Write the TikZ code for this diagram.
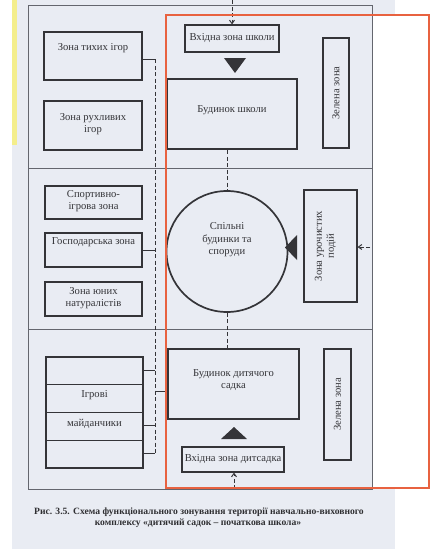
\documentclass[tikz,border=0pt]{standalone}
\usepackage{fontspec}
\setmainfont{Liberation Serif}
\usetikzlibrary{arrows.meta,calc}
\definecolor{paper}{RGB}{233,236,243}
\definecolor{ink}{RGB}{52,52,56}
\definecolor{frameink}{RGB}{100,102,110}
\definecolor{redline}{RGB}{232,98,64}
\definecolor{yelstrip}{RGB}{244,238,140}
\begin{document}
\begin{tikzpicture}[x=1pt,y=-1pt,
  zbox/.style={draw=ink, line width=1.1pt, inner sep=0pt},
  thickbox/.style={draw=ink, line width=2.3pt, inner sep=0pt},
  ztext/.style={text=ink, font=\fontsize{10.6}{12}\selectfont, align=center, inner sep=0pt},
  conn/.style={draw=ink, line width=0.9pt},
  dashline/.style={draw=ink, line width=1pt, dash pattern=on 4pt off 2.5pt},
  dasharrow/.style={dashline, -{Straight Barb[length=3.5pt,width=5pt]}},
  frameline/.style={draw=frameink, line width=0.8pt},
  captext/.style={text=ink!90!black, font=\fontsize{9.6}{11}\selectfont\bfseries, inner sep=0pt}
]
\useasboundingbox (0,0) rectangle (446,549);
% paper
\fill[white] (0,0) rectangle (446,549);
\fill[paper] (12,0) rectangle (395,549);
\fill[yelstrip] (12,0) rectangle (17,145);
\fill[white] (372,15) rectangle (429,488);

% outer frame and dividers
\draw[frameline] (28,5) rectangle (372,489);
\draw[frameline] (28,168) -- (372,168);
\draw[frameline] (28,329) -- (372,329);

% ---- top section
\node[zbox, minimum width=98pt, minimum height=48pt] (tykh) at (93,56) {};
\node[ztext] (tykhT) at (93,48) {Зона тихих ігор};
\node[zbox, minimum width=98pt, minimum height=49pt] (rukh) at (93,125.5) {};
\node[ztext] (rukhT) at (93,124.5) {Зона рухливих\\ігор};
\node[zbox, minimum width=94pt, minimum height=27pt] (schEnt) at (232,38.5) {};
\node[ztext] (schEntT) at (232,38.5) {Вхідна зона школи};
\node[thickbox, minimum width=130pt, minimum height=70pt] (school) at (232,114) {};
\node[ztext] (schoolT) at (232,110) {Будинок школи};
\node[zbox, minimum width=26pt, minimum height=110pt] (green1) at (336,93) {};
\node[ztext, rotate=90] (green1T) at (336,93) {Зелена зона};
\fill[ink] (224,58) -- (246,58) -- (235,73) -- cycle;

% ---- middle section
\node[zbox, minimum width=97pt, minimum height=33pt] (sport) at (93.5,202.5) {};
\node[ztext] (sportT) at (93.5,201) {Спортивно-\\ігрова зона};
\node[zbox, minimum width=97pt, minimum height=34pt] (gosp) at (93.5,250) {};
\node[ztext] (gospT) at (93.5,242.5) {Господарська зона};
\node[zbox, minimum width=97pt, minimum height=34pt] (nat) at (93.5,299) {};
\node[ztext] (natT) at (93.5,298) {Зона юних\\натуралістів};
\node[draw=ink, line width=1.7pt, circle, minimum size=121pt, inner sep=0pt] (circ) at (227,251.5) {};
\node[ztext, align=center, font=\fontsize{10.6}{12.5}\selectfont] (circT) at (227,240) {Спільні\\будинки та\\споруди};
\node[zbox, minimum width=53pt, minimum height=112pt] (uroch) at (330.5,246) {};
\node[ztext, rotate=90] (urochT) at (325.5,246) {Зона урочистих\\подій};
\fill[ink] (285,247.5) -- (297,235) -- (297,260) -- cycle;

% ---- bottom section
\node[zbox, minimum width=97pt, minimum height=111pt] (play) at (94.5,412.5) {};
\draw[conn] (play.west |- 0,384) -- (play.east |- 0,384);
\draw[conn] (play.west |- 0,412) -- (play.east |- 0,412);
\draw[conn] (play.west |- 0,440) -- (play.east |- 0,440);
\node[ztext] (playT1) at (94.5,395.5) {Ігрові};
\node[ztext] (playT2) at (94.5,423.5) {майданчики};
\node[thickbox, minimum width=131pt, minimum height=70pt] (kinder) at (233.5,384) {};
\node[ztext] (kinderT) at (233.5,380) {Будинок дитячого\\садка};
\node[zbox, minimum width=102pt, minimum height=25pt] (kgEnt) at (233,459.5) {};
\node[ztext] (kgEntT) at (233,459.5) {Вхідна зона дитсадка};
\node[zbox, minimum width=27pt, minimum height=111pt] (green2) at (337.5,404.5) {};
\node[ztext, rotate=90] (green2T) at (337.5,404.5) {Зелена зона};
\fill[ink] (221,439) -- (247,439) -- (234,427) -- cycle;

% ---- backbone and connectors
\coordinate (bbTop) at (155,59);
\coordinate (bbBot) at (155,453);
\draw[dashline] (bbTop) -- (bbBot);
\draw[conn] (tykh.east |- bbTop) -- (bbTop);
\draw[conn] ($(rukh.north east)+(0,7)$) -- ($(rukh.north east)+(0,7)$ -| school.west);
\draw[conn] ($(sport.north east)+(0,9)$) -- ($(sport.north east)+(0,9)$ -| bbTop);
\draw[conn] (gosp.east) -- (gosp.east -| bbTop);
\draw[conn] ($(nat.north east)+(0,12)$) -- ($(nat.north east)+(0,12)$ -| bbTop);
\draw[conn] (play.east |- 0,370) -- (bbTop |- 0,370);
\draw[conn] (play.east |- 0,425) -- (bbTop |- 0,425);
\draw[conn] (play.east |- bbBot) -- (bbBot);
\draw[conn] (bbTop |- 0,391) -- (kinder.west |- 0,391);

% vertical dashed links
\draw[dashline] (school.south -| circ.north) -- (circ.north);
\draw[dashline] (circ.south) -- (kinder.north -| circ.south);

% incoming arrows
\coordinate (topIn) at (232,0);
\coordinate (rightIn) at (370,247);
\coordinate (botIn) at (234,489);
\draw[dasharrow] (topIn) -- (schEnt.north -| topIn);
\draw[dasharrow] (rightIn) -- (uroch.east |- rightIn);
\draw[dasharrow] (botIn) -- (kgEnt.south -| botIn);

% overlay rectangle
\draw[redline, line width=1.1pt] (166,15) rectangle (429,488);

% caption
\node[captext] (cap1) at (199,512) {Рис. 3.5. Схема функціонального зонування території навчально-виховного};
\node[captext] (cap2) at (198,523) {комплексу «дитячий садок – початкова школа»};
\end{tikzpicture}
\end{document}
